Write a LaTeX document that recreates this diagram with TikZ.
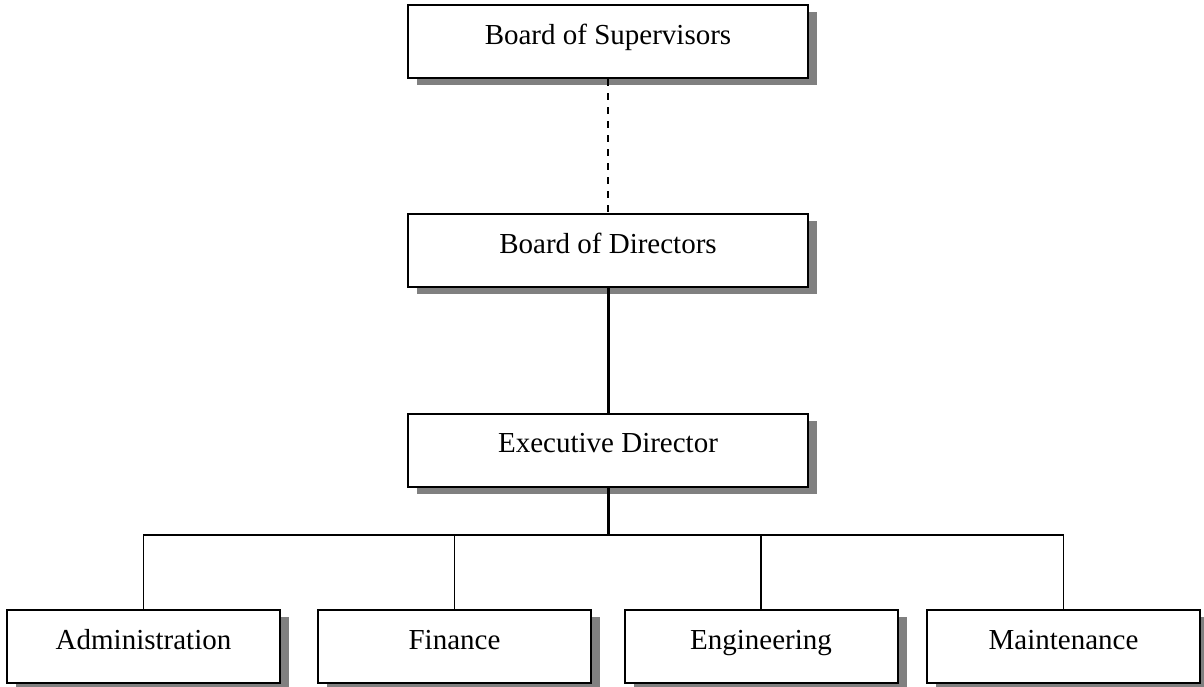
\documentclass[tikz,border=0pt]{standalone}
\usepackage{fontspec}
\setmainfont{Liberation Serif}
\usetikzlibrary{shadows}
\definecolor{shadowgray}{RGB}{128,128,128}
\tikzset{
  orgbox/.style={draw=black, line width=2pt, fill=white, rectangle, inner sep=0pt,
    minimum width=#1, minimum height=73pt, text height=22pt, text depth=17pt,
    font=\fontsize{29}{34}\selectfont,
    drop shadow={shadow xshift=9pt, shadow yshift=-7pt, fill=shadowgray, opacity=1}},
  orgbox/.default=400pt,
  dashedlink/.style={line width=1.6pt, dash pattern=on 7pt off 7pt},
  thicklink/.style={line width=3pt},
  thinlink/.style={line width=1.4pt}
}
\begin{document}
\begin{tikzpicture}[x=1pt,y=-1pt]
\useasboundingbox (0,0) rectangle (1204,686);
\node[orgbox] (sup) at (608,41.5) {Board of Supervisors};
\node[orgbox] (dir) at (608,250.5) {Board of Directors};
\node[orgbox] (exe) at (608,450) {Executive Director};
\node[orgbox=273pt] (adm) at (143.5,646.5) {Administration};
\node[orgbox=273pt] (fin) at (454.5,646.5) {Finance};
\node[orgbox=273pt] (eng) at (761,646.5) {Engineering};
\node[orgbox=273pt] (mai) at (1063.5,646.5) {Maintenance};
\coordinate (bus) at (608,535);
\draw[dashedlink] (sup.south) -- (dir.north);
\draw[thicklink] (dir.south) -- (exe.north);
\draw[thinlink] (adm.north) -- (adm.north |- bus) -- (mai.north |- bus) -- (mai.north);
\draw[thinlink] (fin.north) -- (fin.north |- bus);
\draw[thinlink] (eng.north) -- (eng.north |- bus);
\draw[thicklink] (exe.south) -- (bus);
\end{tikzpicture}
\end{document}
